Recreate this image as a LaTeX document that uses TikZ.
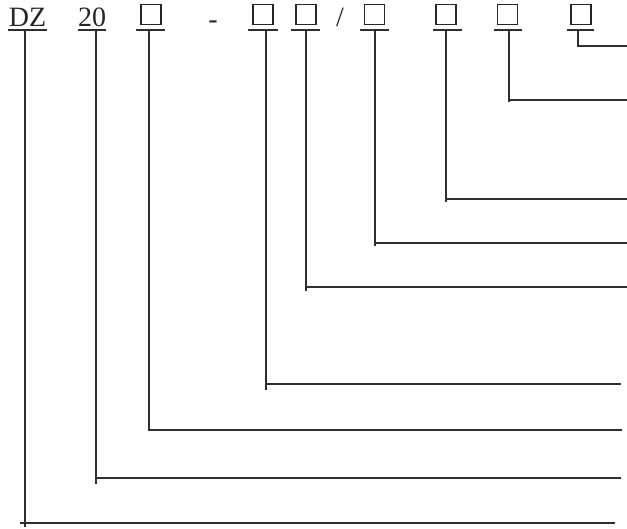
\documentclass[tikz,border=0pt]{standalone}
\usepackage{fontspec}
\setmainfont{Liberation Serif}
\begin{document}
\begin{tikzpicture}[x=1pt,y=-1pt,
  ink/.style={line width=1.7pt,draw=black!82},
  lbl/.style={anchor=base,inner sep=0pt,font=\fontsize{28}{28}\selectfont,text=black!85},
  slot/.style={draw=black!85,line width=1.2pt,minimum size=20pt,inner sep=0pt}]
\useasboundingbox[fill=white] (0,0) rectangle (627,529);
% labels
\node[lbl] (dz) at (27.5,27) {DZ};
\node[lbl] (n20) at (92,27) {20};
\node[lbl] (dash) at (213,29) {-};
\node[lbl] (slash) at (340,27) {/};
\node[slot] (b1) at (151,14.5) {};
\node[slot] (b2) at (263,14.5) {};
\node[slot] (b3) at (306,14.5) {};
\node[slot] (b4) at (374.5,14.5) {};
\node[slot] (b5) at (446,14.5) {};
\node[slot] (b6) at (507.5,14.5) {};
\node[slot] (b7) at (581,14.5) {};
% underline ends and connector ends
\coordinate (udz1) at (8,30);   \coordinate (udz2) at (47,30);
\coordinate (u201) at (78,30);  \coordinate (u202) at (106,30);
\coordinate (ub11) at (136,30); \coordinate (ub12) at (165,30);
\coordinate (ub21) at (248,30); \coordinate (ub22) at (278,30);
\coordinate (ub31) at (291,30); \coordinate (ub32) at (320,30);
\coordinate (ub41) at (360,30); \coordinate (ub42) at (389,30);
\coordinate (ub51) at (433,30); \coordinate (ub52) at (462,30);
\coordinate (ub61) at (494,30); \coordinate (ub62) at (522,30);
\coordinate (ub71) at (567,30); \coordinate (ub72) at (594,30);
\foreach \a/\b in {udz1/udz2,u201/u202,ub11/ub12,ub21/ub22,ub31/ub32,ub41/ub42,ub51/ub52,ub61/ub62,ub71/ub72}
  \draw[ink] (\a) -- (\b);
% connectors
\coordinate (tdz) at (25,30);  \coordinate (edz) at (615,523);
\coordinate (t20) at (96,30);  \coordinate (e20) at (621,478);
\coordinate (tb1) at (149,30); \coordinate (eb1) at (622,430);
\coordinate (tb2) at (266,30); \coordinate (eb2) at (621,384);
\coordinate (tb3) at (306,30); \coordinate (eb3) at (627,287);
\coordinate (tb4) at (375,30); \coordinate (eb4) at (627,243);
\coordinate (tb5) at (446,30); \coordinate (eb5) at (627,199);
\coordinate (tb6) at (509,30); \coordinate (eb6) at (627,100);
\coordinate (tb7) at (578,30); \coordinate (eb7) at (627,46);
\draw[ink] (tdz) -- (tdz |- 0,527);
\draw[ink] (20,523) -- (edz);
\draw[ink] (t20) -- (t20 |- 0,484);
\draw[ink] (t20 |- e20) -- (e20);
\draw[ink] (tb1) -- (tb1 |- eb1) -- (eb1);
\draw[ink] (tb2) -- (tb2 |- 0,390);
\draw[ink] (tb2 |- eb2) -- (eb2);
\draw[ink] (tb3) -- (tb3 |- 0,291);
\draw[ink] (tb3 |- eb3) -- (eb3);
\draw[ink] (tb4) -- (tb4 |- 0,246);
\draw[ink] (tb4 |- eb4) -- (eb4);
\draw[ink] (tb5) -- (tb5 |- 0,202);
\draw[ink] (tb5 |- eb5) -- (eb5);
\draw[ink] (tb6) -- (tb6 |- 0,102);
\draw[ink] (tb6 |- eb6) -- (eb6);
\draw[ink] (tb7) -- (tb7 |- eb7) -- (eb7);
\end{tikzpicture}
\end{document}
